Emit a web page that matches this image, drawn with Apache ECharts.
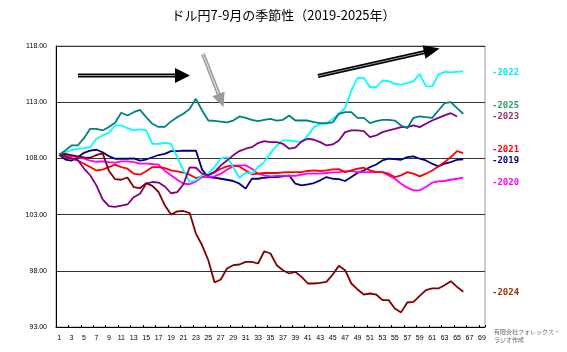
<!DOCTYPE html>
<html>
<head>
<meta charset="utf-8">
<script src="https://cdn.jsdelivr.net/npm/echarts@6/dist/echarts.min.js"></script>
<style>
  html, body { margin: 0; padding: 0; background: #fff; }
  #chart { width: 567px; height: 352px; }
</style>
</head>
<body>
<div id="chart"></div>
<script>
// 営業日 1..69
var days = [];
for (var d = 1; d <= 69; d++) days.push(String(d));

var y2019 = [108.33, 107.9, 107.8, 108.1, 108.5, 108.7, 108.77, 108.55, 108.2, 107.97,
  107.97, 107.97, 108.0, 107.8, 107.9, 108.1, 108.3, 108.4, 108.65, 108.65,
  108.7, 108.68, 108.7, 107.0, 106.34, 106.28, 106.19, 106.1, 105.99, 105.75,
  105.31, 106.19, 106.19, 106.28, 106.34, 106.34, 106.4, 106.49, 105.75, 105.6,
  105.69, 105.81, 106.05, 106.34, 106.19, 106.15, 105.99, 106.34, 106.7, 106.93,
  107.23, 107.46, 107.82, 107.97, 107.94, 107.88, 108.12, 108.18, 107.97, 107.82,
  107.53, 107.29, 107.53, 107.67, 107.88, 107.91];
var y2020 = [108.33, 108.27, 108.21, 108.12, 107.97, 107.8, 107.7, 107.73, 107.67, 107.62,
  107.73, 107.73, 107.67, 107.53, 107.53, 107.5, 107.44, 106.9, 106.5, 106.1,
  105.75, 105.7, 105.95, 106.34, 106.34, 106.4, 106.64, 107.0, 107.29, 107.38,
  107.38, 107.08, 106.64, 106.49, 106.4, 106.45, 106.45, 106.45, 106.45, 106.55,
  106.64, 106.64, 106.64, 106.7, 106.76, 106.78, 106.85, 106.88, 106.78, 106.78,
  106.78, 106.78, 106.78, 106.49, 106.19, 105.75, 105.4, 105.16, 105.16, 105.46,
  105.84, 105.96, 105.99, 106.1, 106.19, 106.28];
var y2021 = [108.33, 108.12, 107.97, 107.82, 107.53, 107.23, 106.93, 107.0, 107.23, 107.44,
  107.23, 107.08, 106.64, 106.55, 106.85, 107.23, 107.23, 107.14, 106.93, 106.85,
  106.73, 106.55, 106.25, 106.4, 106.58, 106.78, 107.08, 107.29, 107.38, 107.29,
  106.93, 106.58, 106.64, 106.7, 106.7, 106.7, 106.76, 106.78, 106.78, 106.78,
  106.88, 106.93, 106.88, 106.93, 107.02, 107.05, 106.78, 106.93, 107.08, 107.17,
  106.93, 106.78, 106.78, 106.64, 106.34, 106.49, 106.78, 106.64, 106.4, 106.64,
  106.93, 107.29, 107.67, 108.12, 108.65, 108.47];
var y2022 = [108.33, 108.56, 108.74, 108.86, 108.92, 109.0, 109.75, 110.04, 110.28, 110.93,
  110.93, 110.69, 110.49, 110.58, 110.49, 109.3, 109.3, 109.39, 109.3, 108.1,
  106.93, 105.9, 106.05, 106.49, 106.64, 107.23, 107.97, 108.12, 107.23, 106.28,
  106.73, 106.64, 107.23, 107.67, 108.47, 109.15, 109.6, 109.6, 109.51, 109.45,
  110.04, 110.78, 111.08, 111.08, 111.52, 111.97, 112.47, 114.04, 115.17, 115.17,
  114.33, 114.33, 114.93, 114.87, 114.63, 114.57, 114.69, 114.87, 115.5, 114.4,
  114.4, 115.45, 115.7, 115.65, 115.7, 115.75];
var y2023 = [108.33, 108.2, 108.0, 107.85, 107.1, 106.5, 105.6, 104.35, 103.75, 103.68,
  103.8, 103.9, 104.55, 104.86, 105.75, 105.9, 105.85, 105.5, 104.9, 105.0,
  105.7, 107.2, 107.17, 106.64, 106.49, 106.78, 107.38, 107.82, 108.27, 108.65,
  108.86, 109.0, 109.36, 109.54, 109.45, 109.45, 109.3, 108.86, 108.95, 109.51,
  109.75, 109.66, 109.45, 109.15, 109.24, 109.6, 110.34, 110.49, 110.49, 110.43,
  109.9, 110.04, 110.34, 110.49, 110.63, 110.78, 110.78, 110.93, 110.78, 111.08,
  111.37, 111.61, 111.82, 112.02, 111.73];
var y2024 = [108.33, 108.4, 108.3, 108.18, 108.1, 108.06, 108.3, 108.47, 106.9, 106.15,
  106.1, 106.3, 105.45, 105.35, 105.8, 105.55, 105.01, 103.83, 103.0, 103.29,
  103.32, 103.14, 101.31, 100.27, 98.94, 96.96, 97.23, 98.2, 98.5, 98.56,
  98.8, 98.8, 98.65, 99.74, 99.54, 98.5, 98.05, 97.76, 97.9, 97.46,
  96.87, 96.87, 96.93, 97.02, 97.67, 98.44, 98.05, 96.87, 96.34, 95.89,
  95.98, 95.89, 95.39, 95.39, 94.65, 94.3, 95.18, 95.24, 95.77, 96.28,
  96.43, 96.43, 96.72, 97.08, 96.57, 96.13];
var y2025 = [108.33, 108.71, 109.15, 109.15, 109.8, 110.63, 110.63, 110.49, 110.8, 111.17,
  112.06, 111.82, 112.11, 112.32, 111.67, 111.08, 110.8, 110.8, 111.29, 111.67,
  111.97, 112.41, 113.3, 112.26, 111.37, 111.34, 111.28, 111.2, 111.37, 111.73,
  111.61, 111.43, 111.31, 111.43, 111.52, 111.37, 111.43, 111.82, 111.37, 111.37,
  111.37, 111.23, 111.14, 111.14, 111.2, 111.97, 112.12, 112.12, 111.61, 111.61,
  111.14, 111.31, 111.43, 111.43, 111.37, 110.93, 110.69, 111.61, 111.73, 111.67,
  111.61, 112.26, 112.91, 113.0, 112.47, 111.97];

var years = ['2019', '2020', '2021', '2022', '2023', '2024', '2025'];
var yearData = [y2019, y2020, y2021, y2022, y2023, y2024, y2025];
var lineColors = ['#000080', '#ff00ff', '#ff0000', '#00ffff', '#800080', '#800000', '#008080'];

// 右側の年ラベル（位置はレート値で指定）
var labelNames = ['-2022', '-2025', '-2023', '-2021', '-2019', '-2020', '-2024'];
var labelLevels = [115.64, 112.71, 111.73, 108.8, 107.82, 105.87, 96.05];
var labelColors = ['#00e8ff', '#339966', '#993366', '#ff0000', '#000080', '#ff00ff', '#993300'];

var chart = echarts.init(document.getElementById('chart'));

var series = [];
for (var i = 0; i < years.length; i++) {
  series.push({
    name: years[i],
    type: 'line',
    data: yearData[i],
    symbol: 'none',
    smooth: false,
    lineStyle: { width: 1.8, color: lineColors[i] },
    itemStyle: { color: lineColors[i] }
  });
}

var option = {
  animation: false,
  backgroundColor: '#fff',
  title: {
    text: 'ドル円7-9月の季節性（2019-2025年）',
    left: 'center',
    top: 4,
    textStyle: {
      color: '#000',
      fontSize: 13,
      fontWeight: 'normal',
      fontFamily: 'Noto Sans CJK JP'
    }
  },
  grid: {
    left: 56,
    right: 82,
    top: 46,
    bottom: 25,
    show: true,
    borderColor: '#999',
    borderWidth: 1
  },
  xAxis: {
    type: 'category',
    data: days,
    boundaryGap: true,
    axisLine: { lineStyle: { color: '#000', width: 1 } },
    axisTick: { show: true, inside: true, length: 2, lineStyle: { color: '#000' } },
    axisLabel: {
      interval: 1,
      margin: 8,
      fontSize: 7,
      color: '#000',
      fontFamily: 'Liberation Sans'
    },
    splitLine: { show: false }
  },
  yAxis: {
    type: 'value',
    min: 93,
    max: 118,
    interval: 5,
    axisLine: { show: true, lineStyle: { color: '#000', width: 1 } },
    axisTick: { show: false },
    axisLabel: {
      margin: 9,
      fontSize: 7,
      color: '#000',
      fontFamily: 'Liberation Sans',
      formatter: function (v) { return v.toFixed(2); }
    },
    splitLine: { show: true, lineStyle: { color: '#333', width: 1 } }
  },
  series: series
};

chart.setOption(option);

// 矢印と注記
var graphics = [
  // 横向きの黒矢印
  { type: 'line', shape: { x1: 78, y1: 75.5, x2: 177, y2: 75.5 }, style: { stroke: '#000', lineWidth: 4 } },
  { type: 'line', shape: { x1: 78, y1: 75.5, x2: 177, y2: 75.5 }, style: { stroke: '#999', lineWidth: 1 } },
  { type: 'polygon', shape: { points: [[175, 68], [190, 75.5], [175, 83]] }, style: { fill: '#000' } },
  // 灰色の下向き矢印
  { type: 'line', shape: { x1: 203, y1: 54, x2: 219, y2: 95 }, style: { stroke: '#999', lineWidth: 4 } },
  { type: 'line', shape: { x1: 203, y1: 54, x2: 219, y2: 95 }, style: { stroke: '#ddd', lineWidth: 1.2 } },
  { type: 'polygon', shape: { points: [[212.4, 96.2], [224.6, 91.6], [223.5, 107]] }, style: { fill: '#999' } },
  // 右上がりの黒矢印
  { type: 'line', shape: { x1: 318, y1: 76, x2: 425, y2: 52 }, style: { stroke: '#000', lineWidth: 4 } },
  { type: 'line', shape: { x1: 318, y1: 76, x2: 425, y2: 52 }, style: { stroke: '#999', lineWidth: 1 } },
  { type: 'polygon', shape: { points: [[422.5, 45.2], [439.6, 48.5], [425.5, 58.8]] }, style: { fill: '#000' } },
  // 作成者
  { type: 'text', left: 494, top: 329, style: { text: '有限会社フォレックス・', fill: '#666', fontSize: 6, fontFamily: 'Noto Sans CJK JP' } },
  { type: 'text', left: 494, top: 337, style: { text: 'ラジオ作成', fill: '#666', fontSize: 6, fontFamily: 'Noto Sans CJK JP' } }
];

for (var k = 0; k < labelNames.length; k++) {
  var py = chart.convertToPixel({ yAxisIndex: 0 }, labelLevels[k]);
  graphics.push({
    type: 'text',
    x: 492,
    y: py,
    style: {
      text: labelNames[k],
      fill: labelColors[k],
      fontSize: 9,
      fontWeight: 'bold',
      fontFamily: 'DejaVu Sans Mono',
      verticalAlign: 'middle'
    }
  });
}

chart.setOption({ graphic: graphics });
</script>
</body>
</html>
